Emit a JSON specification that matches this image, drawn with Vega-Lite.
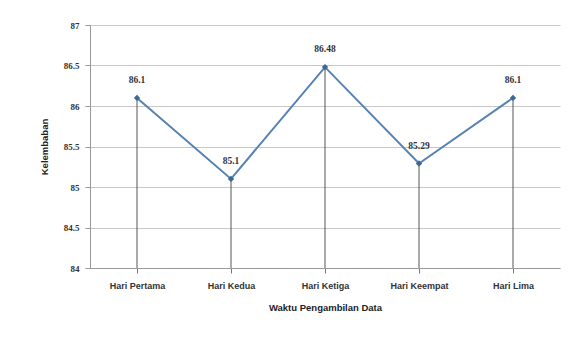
{
  "$schema": "https://vega.github.io/schema/vega-lite/v6.json",
  "autosize": {"type": "none"},
  "width": 470,
  "height": 243,
  "padding": {"left": 90, "top": 25, "right": 8, "bottom": 69},
  "background": "white",
  "data": {"values": [
    {"hari": "Hari Pertama", "nilai": 86.1},
    {"hari": "Hari Kedua", "nilai": 85.1},
    {"hari": "Hari Ketiga", "nilai": 86.48},
    {"hari": "Hari Keempat", "nilai": 85.29},
    {"hari": "Hari Lima", "nilai": 86.1}
  ]},
  "encoding": {
    "x": {"field": "hari", "type": "nominal", "sort": null,
      "scale": {"type": "point", "padding": 0.5},
      "axis": {"title": "Waktu Pengambilan Data", "labelAngle": 0, "labelFont": "Liberation Sans", "labelFontWeight": "bold", "labelFontSize": 9, "labelColor": "#333",
        "titleFont": "Liberation Sans", "titleFontSize": 9.5, "titleFontWeight": "bold", "titleColor": "#222", "titlePadding": 12,
        "domainColor": "#999", "tickColor": "#777", "tickSize": 5, "labelPadding": 8, "grid": false}},
    "y": {"field": "nilai", "type": "quantitative",
      "scale": {"domain": [84, 87], "zero": false, "nice": false},
      "axis": {"title": "Kelembaban", "values": [84, 84.5, 85, 85.5, 86, 86.5, 87], "format": "~g", "labelFont": "Liberation Serif", "labelFontWeight": "bold", "labelFontSize": 9, "labelColor": "#333",
        "titleFont": "Liberation Sans", "titleFontSize": 9.5, "titleFontWeight": "bold", "titleColor": "#222", "titlePadding": 14,
        "domainColor": "#999", "tickColor": "#999", "tickSize": 5, "labelPadding": 6, "gridColor": "#c8c8c8", "gridWidth": 1}}
  },
  "layer": [
    {"mark": {"type": "rule", "color": "#555", "strokeWidth": 1}, "encoding": {"y2": {"datum": 84}}},
    {"mark": {"type": "line", "color": "#5582b4", "strokeWidth": 2}},
    {"mark": {"type": "point", "shape": "diamond", "filled": true, "color": "#3c6896", "size": 40, "opacity": 1}},
    {"mark": {"type": "text", "dy": -18, "font": "Liberation Serif", "fontWeight": "bold", "fontSize": 9.5, "color": "#333"}, "encoding": {"text": {"field": "nilai", "type": "quantitative"}}}
  ],
  "config": {"view": {"stroke": null}}
}
